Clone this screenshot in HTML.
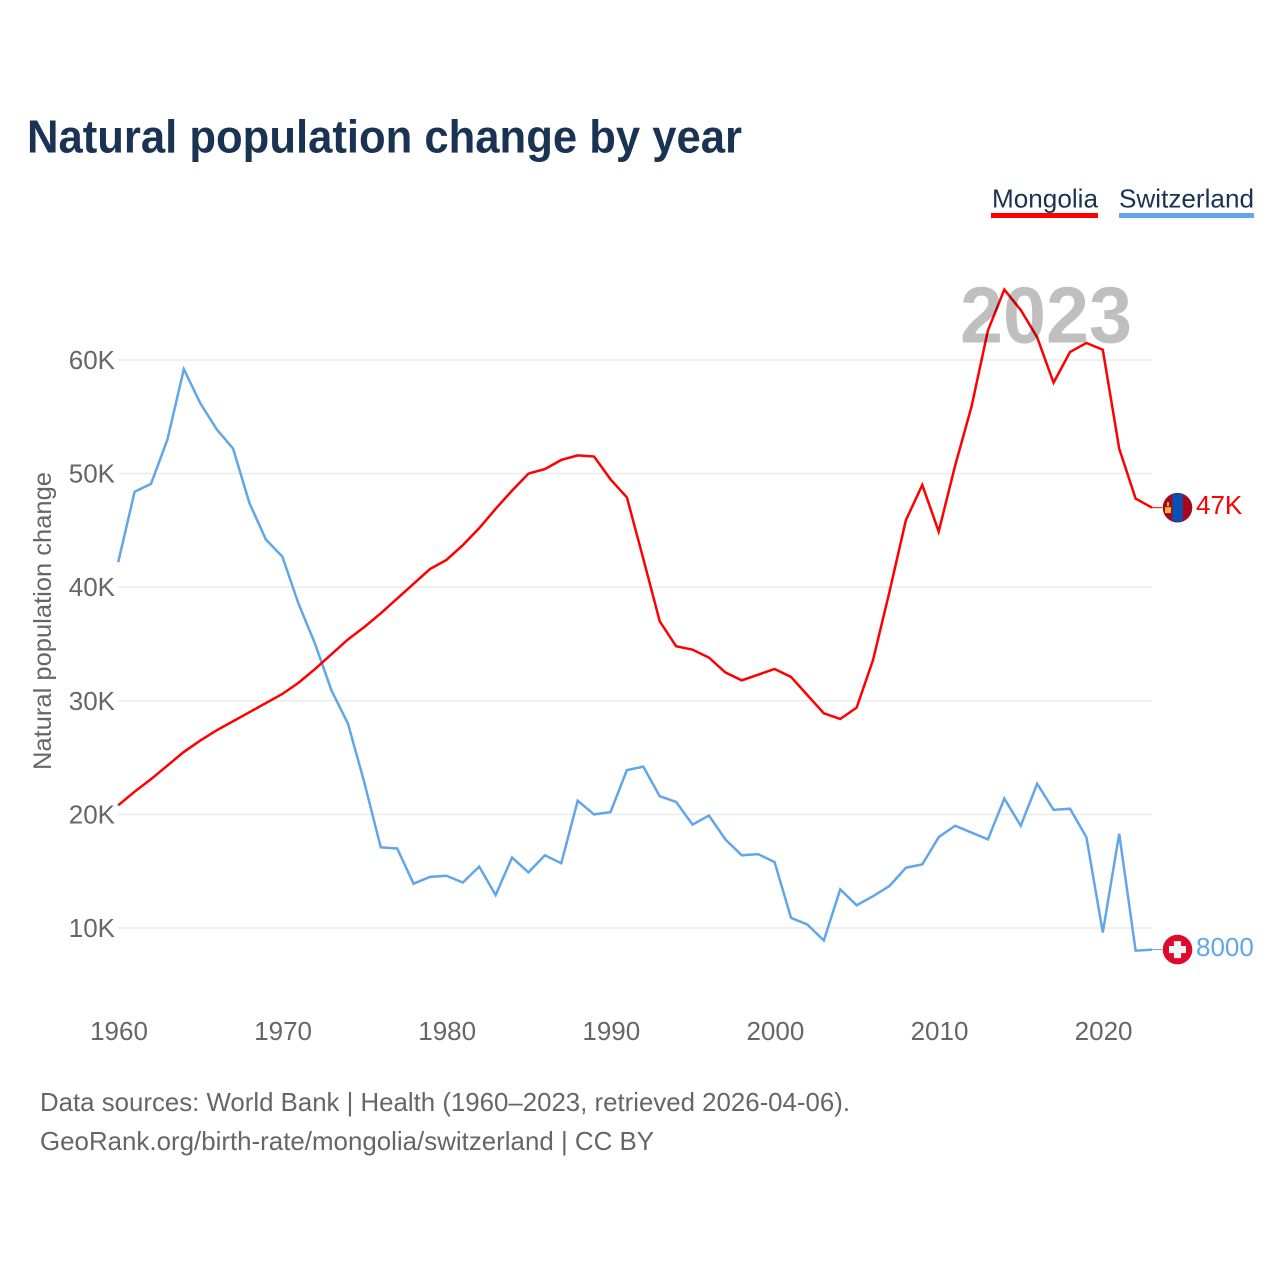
<!DOCTYPE html>
<html lang="en">
<head>
<meta charset="utf-8">
<title>Natural population change by year</title>
<style>
html,body{margin:0;padding:0;background:#fff;width:1280px;height:1280px;overflow:hidden}
svg{display:block}
text{font-family:"Liberation Sans",sans-serif}
</style>
</head>
<body>
<svg id="chart" xmlns="http://www.w3.org/2000/svg" width="1280" height="1280" viewBox="0 0 1280 1280">
  <rect width="1280" height="1280" fill="#fff"/>
  <text x="27" y="152.5" font-size="46" font-weight="700" fill="#1a3353" textLength="715" lengthAdjust="spacingAndGlyphs">Natural population change by year</text>

  <g>
    <g>
      <text x="992" y="207.5" font-size="26" fill="#1a3353" textLength="106" lengthAdjust="spacingAndGlyphs">Mongolia</text>
      <rect x="991" y="213" width="107" height="5" fill="#ff0000"/>
    </g>
    <g>
      <text x="1119" y="207.5" font-size="26" fill="#1a3353" textLength="135" lengthAdjust="spacingAndGlyphs">Switzerland</text>
      <rect x="1119" y="213" width="135" height="5" fill="#62a6ea"/>
    </g>
  </g>

  <g id="grid"></g>
  <g id="y-ticks"></g>
  <g id="x-ticks"></g>

  <text transform="translate(51,770) rotate(-90)" font-size="25" fill="#666666" textLength="298" lengthAdjust="spacingAndGlyphs">Natural population change</text>

  <polyline id="line-switzerland" fill="none" stroke="#62a6ea" stroke-width="2.5" stroke-linejoin="miter"/>
  <polyline id="line-mongolia" fill="none" stroke="#ff0000" stroke-width="2.5" stroke-linejoin="miter"/>
  <line id="leader-switzerland" stroke="#62a6ea" stroke-width="1"/>
  <line id="leader-mongolia" stroke="#ff0000" stroke-width="1"/>

  <text x="960" y="342.5" font-size="80" font-weight="700" fill="#000000" fill-opacity="0.25" textLength="172" lengthAdjust="spacingAndGlyphs">2023</text>

  <g id="flag-mongolia">
    <circle r="14.8" fill="#a5071f"/>
    <path d="M-5.2,-14 H5.2 V14 H-5.2 Z" fill="#0a50b4"/>
    <path d="M-12.5,-0.5 H-6.5 V5.5 H-12.5 Z M-10.5,-5.5 H-8.5 V-1.5 H-10.5 Z" fill="#f2b23c"/>
  </g>
  <g id="flag-switzerland">
    <circle r="14.8" fill="#dc0a2c"/>
    <path d="M-3.6,-8.5 H3.6 V-3.6 H8.5 V3.6 H3.6 V8.5 H-3.6 V3.6 H-8.5 V-3.6 H-3.6 Z" fill="#f2f2f2"/>
  </g>
  <text id="value-mongolia" x="1196" font-size="26" fill="#ff0000">47K</text>
  <text id="value-switzerland" x="1196" font-size="26" fill="#62a6ea">8000</text>

  <text x="40" y="1111" font-size="26" fill="#666666" textLength="810" lengthAdjust="spacingAndGlyphs">Data sources: World Bank | Health (1960–2023, retrieved 2026-04-06).</text>
  <text x="40" y="1150" font-size="26" fill="#666666" textLength="614" lengthAdjust="spacingAndGlyphs">GeoRank.org/birth-rate/mongolia/switzerland | CC BY</text>
</svg>

<script>
const years = [1960,1961,1962,1963,1964,1965,1966,1967,1968,1969,1970,1971,1972,1973,1974,1975,1976,1977,1978,1979,1980,1981,1982,1983,1984,1985,1986,1987,1988,1989,1990,1991,1992,1993,1994,1995,1996,1997,1998,1999,2000,2001,2002,2003,2004,2005,2006,2007,2008,2009,2010,2011,2012,2013,2014,2015,2016,2017,2018,2019,2020,2021,2022,2023];
const mongolia = [20.8,22.0,23.1,24.3,25.5,26.5,27.4,28.2,29.0,29.8,30.6,31.6,32.8,34.1,35.4,36.5,37.7,39.0,40.3,41.6,42.4,43.7,45.2,46.9,48.5,50.0,50.4,51.2,51.6,51.5,49.5,47.9,42.5,37.0,34.8,34.5,33.8,32.5,31.8,32.3,32.8,32.1,30.5,28.9,28.4,29.4,33.6,39.6,45.9,49.0,44.9,50.7,55.9,62.6,66.2,64.4,62.0,58.0,60.7,61.5,60.9,52.2,47.8,47.0];
const switzerland = [42.2,48.4,49.1,53.0,59.2,56.2,53.9,52.2,47.4,44.2,42.7,38.5,35.0,30.9,28.0,22.8,17.1,17.0,13.9,14.5,14.6,14.0,15.4,12.9,16.2,14.9,16.4,15.7,21.2,20.0,20.2,23.9,24.2,21.6,21.1,19.1,19.9,17.8,16.4,16.5,15.8,10.9,10.3,8.9,13.4,12.0,12.8,13.7,15.3,15.6,18.0,19.0,18.4,17.8,21.4,19.0,22.7,20.4,20.5,18.0,9.6,18.3,8.0,8.1];
const yTicks = [10,20,30,40,50,60];
const yTickLabels = ["10K","20K","30K","40K","50K","60K"];
const xTicks = [1960,1970,1980,1990,2000,2010,2020];
const xTickLabels = ["1960","1970","1980","1990","2000","2010","2020"];

const SVG_NS = "http://www.w3.org/2000/svg";
function xScale(year){ return 118.2 + (year - 1960) * 16.41; }
function yScale(value){ return 928 - (value - 10) * 11.36; }
function linePoints(values){
  return values.map(function(v, i){ return xScale(years[i]).toFixed(2) + "," + yScale(v).toFixed(2); }).join(" ");
}

const gridGroup = document.getElementById("grid");
const yTickGroup = document.getElementById("y-ticks");
yTicks.forEach(function(tick, i){
  const gridLine = document.createElementNS(SVG_NS, "line");
  
  
  gridLine.setAttribute("x1", xScale(1960));
  gridLine.setAttribute("x2", xScale(2023));
  gridLine.setAttribute("y1", yScale(tick));
  gridLine.setAttribute("y2", yScale(tick));
  gridLine.setAttribute("stroke", "#eaeaea");
  gridLine.setAttribute("stroke-width", "1.4");
  gridGroup.appendChild(gridLine);

  const label = document.createElementNS(SVG_NS, "text");
  
  
  label.setAttribute("x", 115);
  label.setAttribute("y", yScale(tick) + 9);
  label.setAttribute("text-anchor", "end");
  label.setAttribute("font-size", "26");
  label.setAttribute("fill", "#666666");
  label.textContent = yTickLabels[i];
  yTickGroup.appendChild(label);
});

const xTickGroup = document.getElementById("x-ticks");
xTicks.forEach(function(tick, i){
  const label = document.createElementNS(SVG_NS, "text");
  
  
  label.setAttribute("x", xScale(tick) + 0.8);
  label.setAttribute("y", 1040);
  label.setAttribute("text-anchor", "middle");
  label.setAttribute("font-size", "26");
  label.setAttribute("fill", "#666666");
  label.textContent = xTickLabels[i];
  xTickGroup.appendChild(label);
});

document.getElementById("line-mongolia").setAttribute("points", linePoints(mongolia));
document.getElementById("line-switzerland").setAttribute("points", linePoints(switzerland));

function placeEnd(name, values){
  const last = values[values.length - 1];
  const endX = xScale(years[years.length - 1]);
  const endY = yScale(last);
  const leader = document.getElementById("leader-" + name);
  leader.setAttribute("x1", endX);
  leader.setAttribute("x2", endX + 10);
  leader.setAttribute("y1", endY);
  leader.setAttribute("y2", endY);
  document.getElementById("flag-" + name).setAttribute("transform", "translate(1177.5," + endY + ")");
  document.getElementById("value-" + name).setAttribute("y", endY + 6.5);
}
placeEnd("mongolia", mongolia);
placeEnd("switzerland", switzerland);
</script>
</body>
</html>
